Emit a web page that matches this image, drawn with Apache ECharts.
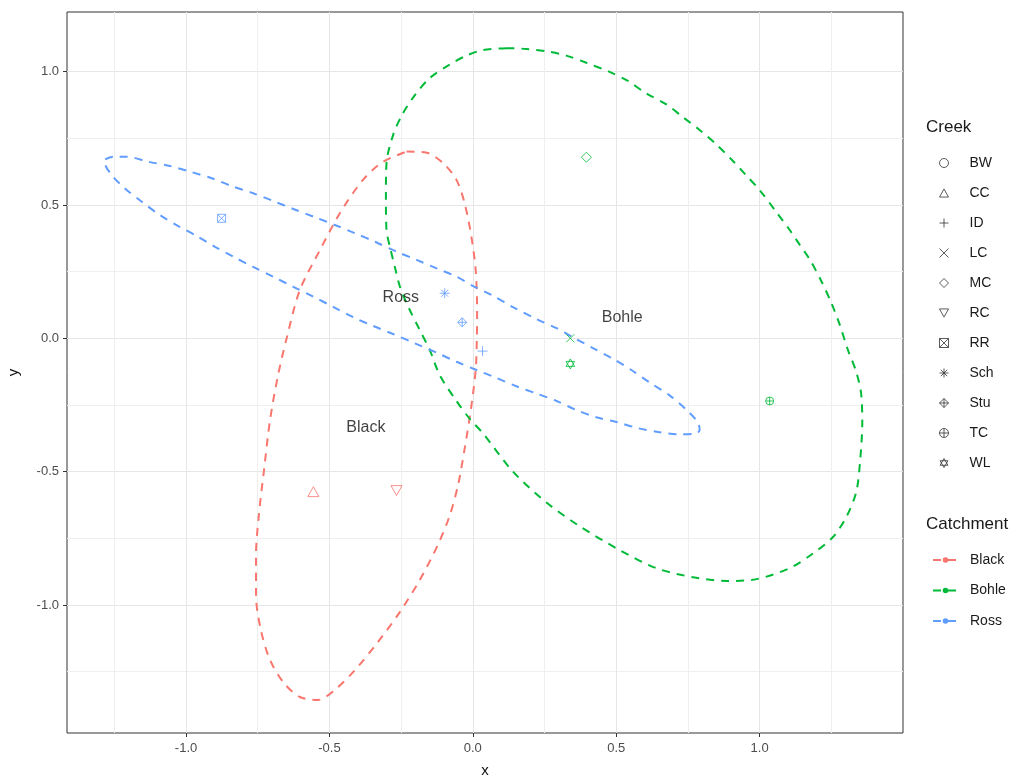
<!DOCTYPE html>
<html>
<head>
<meta charset="utf-8">
<script src="https://cdn.jsdelivr.net/npm/echarts@6/dist/echarts.min.js"></script>
<style>
  html, body { margin: 0; padding: 0; background: #fff; }
  #chart { width: 1027px; height: 779px; }
</style>
</head>
<body>
<div id="chart"></div>
<script>
// creek points (coloured by catchment); BW is in the legend but not visible in the plot
const creeks = ["BW", "CC", "ID", "LC", "MC", "RC", "RR", "Sch", "Stu", "TC", "WL"];
const creekCatchment = ["Black", "Black", "Ross", "Bohle", "Bohle", "Black", "Ross", "Ross", "Ross", "Bohle", "Bohle"];
const creekX = [null, -0.556, 0.034, 0.340, 0.396, -0.266, -0.876, -0.098, -0.037, 1.035, 0.340];
const creekY = [null, -0.575, -0.048, 0.000, 0.679, -0.571, 0.450, 0.169, 0.060, -0.235, -0.096];

// catchments + centroid labels
const catchments = ["Black", "Bohle", "Ross"];
const labelX = [-0.373, 0.521, -0.251];
const labelY = [-0.336, 0.079, 0.151];

// ellipse outlines
const blackEllipse = [
  [-0.231, 0.700], [-0.161, 0.696], [-0.103, 0.656], [-0.057, 0.594], [-0.028, 0.504],
  [-0.005, 0.381], [0.010, 0.256], [0.015, 0.106], [0.014, -0.006], [0.010, -0.119],
  [-0.007, -0.269], [-0.028, -0.411], [-0.051, -0.548], [-0.080, -0.663], [-0.122, -0.775],
  [-0.185, -0.906], [-0.254, -1.026], [-0.331, -1.139], [-0.411, -1.244], [-0.481, -1.318],
  [-0.540, -1.356], [-0.603, -1.345], [-0.659, -1.292], [-0.707, -1.206], [-0.739, -1.094],
  [-0.756, -0.962], [-0.756, -0.812], [-0.746, -0.663], [-0.728, -0.494], [-0.707, -0.306],
  [-0.679, -0.138], [-0.648, 0.005], [-0.603, 0.181], [-0.533, 0.331], [-0.463, 0.470],
  [-0.383, 0.594], [-0.314, 0.661], [-0.231, 0.700]
];
const bohleEllipse = [
  [0.117, 1.088], [0.187, 1.085], [0.268, 1.074], [0.326, 1.060], [0.396, 1.033],
  [0.477, 0.999], [0.541, 0.965], [0.605, 0.918], [0.675, 0.877], [0.733, 0.829],
  [0.791, 0.781], [0.849, 0.727], [0.907, 0.665], [0.954, 0.610], [1.000, 0.556],
  [1.058, 0.474], [1.105, 0.406], [1.139, 0.352], [1.174, 0.297], [1.215, 0.215],
  [1.250, 0.133], [1.279, 0.052], [1.308, -0.044], [1.337, -0.126], [1.354, -0.207],
  [1.358, -0.316], [1.351, -0.453], [1.337, -0.576], [1.302, -0.671], [1.255, -0.746],
  [1.186, -0.807], [1.105, -0.862], [0.989, -0.903], [0.884, -0.910], [0.768, -0.896],
  [0.640, -0.862], [0.512, -0.794], [0.373, -0.705], [0.257, -0.616], [0.140, -0.500],
  [0.036, -0.357], [-0.010, -0.303], [-0.057, -0.235], [-0.115, -0.139], [-0.150, -0.044],
  [-0.185, 0.031], [-0.225, 0.118], [-0.254, 0.193], [-0.272, 0.268], [-0.289, 0.343],
  [-0.301, 0.406], [-0.303, 0.531], [-0.301, 0.656], [-0.278, 0.762], [-0.247, 0.837],
  [-0.202, 0.912], [-0.150, 0.976], [-0.080, 1.027], [-0.022, 1.060], [0.036, 1.081],
  [0.117, 1.088]
];
const rossEllipse = [
  [-1.282, 0.671], [-1.253, 0.681], [-1.207, 0.681], [-1.131, 0.662], [-1.056, 0.646],
  [-0.986, 0.625], [-0.910, 0.600], [-0.841, 0.571], [-0.766, 0.544], [-0.696, 0.515],
  [-0.626, 0.485], [-0.551, 0.454], [-0.481, 0.425], [-0.411, 0.394], [-0.341, 0.362],
  [-0.266, 0.325], [-0.196, 0.294], [-0.126, 0.262], [-0.057, 0.231], [0.001, 0.196],
  [0.071, 0.159], [0.140, 0.117], [0.222, 0.072], [0.292, 0.038], [0.349, 0.004],
  [0.419, -0.037], [0.489, -0.077], [0.553, -0.119], [0.617, -0.166], [0.686, -0.214],
  [0.745, -0.268], [0.785, -0.316], [0.791, -0.344], [0.779, -0.357], [0.715, -0.360],
  [0.646, -0.351], [0.576, -0.337], [0.501, -0.314], [0.431, -0.296], [0.361, -0.269],
  [0.292, -0.235], [0.222, -0.207], [0.152, -0.180], [0.077, -0.146], [0.013, -0.119],
  [-0.057, -0.088], [-0.126, -0.054], [-0.202, -0.019], [-0.278, 0.016], [-0.347, 0.046],
  [-0.417, 0.079], [-0.487, 0.118], [-0.556, 0.156], [-0.626, 0.193], [-0.696, 0.231],
  [-0.766, 0.268], [-0.835, 0.306], [-0.899, 0.343], [-0.963, 0.384], [-1.027, 0.421],
  [-1.091, 0.462], [-1.154, 0.512], [-1.213, 0.562], [-1.259, 0.612], [-1.282, 0.656],
  [-1.282, 0.671]
];

const majorTicks = [-1, -0.5, 0, 0.5, 1];
const xMinorTicks = [-1.25, -0.75, -0.25, 0.25, 0.75, 1.25];
const yMinorTicks = [-1.25, -0.75, -0.25, 0.25, 0.75];

const colors = { Black: "#F8766D", Bohle: "#00BA38", Ross: "#619CFF" };
const ellipses = { Black: blackEllipse, Bohle: bohleEllipse, Ross: rossEllipse };

// ggplot point shapes 1..11
const shapes = {
  BW: "path://M5,0A5,5 0 1,1 5,10A5,5 0 1,1 5,0Z",
  CC: "path://M5,0.5L10,9.5L0,9.5Z",
  ID: "path://M5,0L5,10M0,5L10,5",
  LC: "path://M0,0L10,10M10,0L0,10",
  MC: "path://M5,0L10,5L5,10L0,5Z",
  RC: "path://M0,0.5L10,0.5L5,9.5Z",
  RR: "path://M0,0L10,0L10,10L0,10ZM0,0L10,10M10,0L0,10",
  Sch: "path://M5,0L5,10M0,5L10,5M1.5,1.5L8.5,8.5M8.5,1.5L1.5,8.5",
  Stu: "path://M5,0L10,5L5,10L0,5ZM5,0L5,10M0,5L10,5",
  TC: "path://M5,0A5,5 0 1,1 5,10A5,5 0 1,1 5,0ZM5,0L5,10M0,5L10,5",
  WL: "path://M5,0L9.33,7.5L0.67,7.5ZM5,10L0.67,2.5L9.33,2.5Z"
};
const sizes = { CC: 11, RC: 11, RR: 8, TC: 8, WL: 10, Sch: 10, ID: 10, LC: 8, MC: 10, Stu: 9 };

const FONT = "'Liberation Sans', Arial, sans-serif";
const gridMajor = "#E6E6E6";
const gridMinor = "#EFEFEF";

const chart = echarts.init(document.getElementById("chart"));

const series = [];

catchments.forEach(c => {
  series.push({
    name: c,
    type: "line",
    data: ellipses[c],
    smooth: 0.3,
    symbol: "circle",
    showSymbol: false,
    lineStyle: { color: colors[c], width: 2, type: [8, 7] },
    itemStyle: { color: colors[c] },
    z: 2
  });
});

creeks.forEach((n, i) => {
  series.push({
    name: n,
    type: "scatter",
    data: creekX[i] === null ? [] : [[creekX[i], creekY[i]]],
    symbol: shapes[n],
    symbolKeepAspect: true,
    symbolSize: sizes[n] || 8,
    itemStyle: {
      color: "rgba(0,0,0,0)",
      borderColor: colors[creekCatchment[i]],
      borderWidth: 1
    },
    z: 3
  });
});

series.push({
  name: "labels",
  type: "scatter",
  data: catchments.map((c, i) => [labelX[i], labelY[i], c]),
  symbolSize: 1,
  itemStyle: { color: "rgba(0,0,0,0)" },
  label: {
    show: true,
    position: "inside",
    formatter: p => p.data[2],
    fontSize: 16,
    color: "#111",
    fontFamily: FONT
  },
  z: 4
});

const option = {
  backgroundColor: "#fff",
  animation: false,
  textStyle: { fontFamily: FONT },
  title: [
    { text: "Creek", left: 926, top: 119, padding: 0,
      textStyle: { fontSize: 17, fontWeight: "normal", color: "#1a1a1a", fontFamily: FONT } },
    { text: "Catchment", left: 926, top: 516, padding: 0,
      textStyle: { fontSize: 17, fontWeight: "normal", color: "#1a1a1a", fontFamily: FONT } }
  ],
  legend: [
    {
      orient: "vertical",
      left: 939,
      top: 156,
      padding: 0,
      itemWidth: 9,
      itemHeight: 9,
      itemGap: 16,
      selectedMode: false,
      symbolKeepAspect: true,
      textStyle: { fontSize: 14, color: "#1a1a1a", fontFamily: FONT, padding: [0, 0, 0, 16] },
      data: creeks.map(n => ({
        name: n,
        icon: shapes[n],
        itemStyle: { color: "rgba(0,0,0,0)", borderColor: "#333", borderWidth: 1 }
      }))
    },
    {
      orient: "vertical",
      left: 932,
      top: 553,
      padding: 0,
      itemWidth: 25,
      itemHeight: 7,
      itemGap: 16.5,
      selectedMode: false,
      textStyle: { fontSize: 14, color: "#1a1a1a", fontFamily: FONT, padding: [0, 0, 0, 7] },
      data: catchments
    }
  ],
  grid: {
    left: 67, right: 124, top: 12, bottom: 46,
    outerBoundsMode: "none",
    containLabel: false,
    show: true, borderColor: "#333", borderWidth: 1, backgroundColor: "transparent"
  },
  xAxis: [
    {
      type: "value",
      min: -1.415, max: 1.50,
      position: "bottom",
      name: "x", nameLocation: "middle", nameGap: 30,
      nameTextStyle: { fontSize: 15, color: "#111", fontFamily: FONT },
      axisLine: { show: false, onZero: false },
      axisTick: { show: true, inside: false, length: 4, customValues: majorTicks, lineStyle: { color: "#333" } },
      axisLabel: { customValues: majorTicks, formatter: v => v.toFixed(1), fontSize: 13, color: "#4D4D4D", margin: 9 },
      splitLine: { show: true, lineStyle: { color: gridMajor, width: 1 } }
    },
    {
      type: "value",
      min: -1.415, max: 1.50,
      position: "bottom",
      axisLine: { show: false, onZero: false },
      axisTick: { show: false, customValues: xMinorTicks },
      axisLabel: { show: false },
      splitLine: { show: true, lineStyle: { color: gridMinor, width: 1 } }
    }
  ],
  yAxis: [
    {
      type: "value",
      min: -1.48, max: 1.2235,
      position: "left",
      name: "y", nameLocation: "middle", nameGap: 46, nameRotate: 90,
      nameTextStyle: { fontSize: 15, color: "#111", fontFamily: FONT },
      axisLine: { show: false, onZero: false },
      axisTick: { show: true, inside: false, length: 4, customValues: majorTicks, lineStyle: { color: "#333" } },
      axisLabel: { customValues: majorTicks, formatter: v => v.toFixed(1), fontSize: 13, color: "#4D4D4D", margin: 8 },
      splitLine: { show: true, lineStyle: { color: gridMajor, width: 1 } }
    },
    {
      type: "value",
      min: -1.48, max: 1.2235,
      position: "left",
      axisLine: { show: false, onZero: false },
      axisTick: { show: false, customValues: yMinorTicks },
      axisLabel: { show: false },
      splitLine: { show: true, lineStyle: { color: gridMinor, width: 1 } }
    }
  ],
  series: series
};

chart.setOption(option);
</script>
</body>
</html>
